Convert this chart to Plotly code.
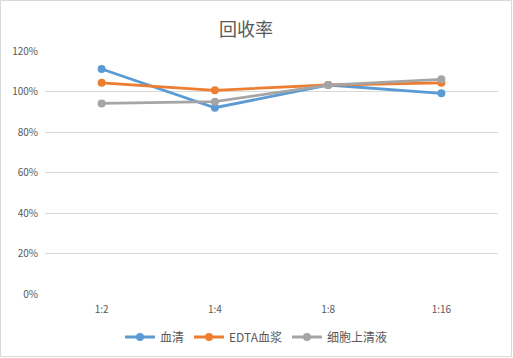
import plotly.graph_objects as go

categories = ["1:2", "1:4", "1:8", "1:16"]
serum = [1.111, 0.920, 1.032, 0.991]
edta_plasma = [1.043, 1.006, 1.032, 1.043]
cell_supernatant = [0.941, 0.950, 1.032, 1.060]
series_names = ["血清", "EDTA血浆", "细胞上清液"]
colors = ["#5B9BD5", "#ED7D31", "#A5A5A5"]
y_ticks = [0, 0.2, 0.4, 0.6, 0.8, 1.0, 1.2]

W, H = 513, 358
ml, mr, mt, mb = 45, 15, 51, 64

fig = go.Figure()
for name, vals, c in zip(series_names, [serum, edta_plasma, cell_supernatant], colors):
    fig.add_trace(go.Scatter(
        x=categories, y=vals, name=name, mode="lines+markers",
        line=dict(color=c, width=2.8),
        marker=dict(color=c, size=8),
    ))

pw = W - ml - mr
ph = H - mt - mb
fig.add_shape(type="rect", xref="paper", yref="paper",
              x0=-(ml - 0.5) / pw, x1=1 + (mr - 1.5) / pw,
              y0=-(mb - 1.5) / ph, y1=1 + (mt - 0.5) / ph,
              line=dict(color="#D9D9D9", width=1), layer="below")

fig.update_layout(
    width=W, height=H,
    margin=dict(l=ml, r=mr, t=mt, b=mb, autoexpand=False),
    paper_bgcolor="white", plot_bgcolor="white",
    font=dict(family="Noto Sans CJK SC, Noto Sans, sans-serif", color="#595959", size=10),
    title=dict(text="回收率", x=(246 - ml) / pw, xanchor="center", xref="paper",
               yref="container", y=1 - 30 / H, yanchor="middle",
               font=dict(size=18, color="#595959")),
    xaxis=dict(type="category", range=[-0.5, 3.5], showgrid=False, zeroline=False,
               showline=False, ticks="", ticklabelstandoff=8,
               tickfont=dict(size=10, color="#595959")),
    yaxis=dict(range=[0, 1.2], tickvals=y_ticks, tickformat=".0%",
               showgrid=True, gridcolor="#D9D9D9", gridwidth=1,
               zeroline=False, showline=False, ticks="", ticklabelstandoff=6,
               tickfont=dict(size=10, color="#595959")),
    legend=dict(orientation="h", x=(256 - ml) / pw, xanchor="center", xref="paper",
                yref="container", y=1 - 337 / H, yanchor="middle",
                font=dict(size=12, color="#595959"), tracegroupgap=0, itemwidth=30),
    showlegend=True,
)

fig.write_html("out.html", config={"displayModeBar": False},
               post_script="document.body.style.margin='0';")
